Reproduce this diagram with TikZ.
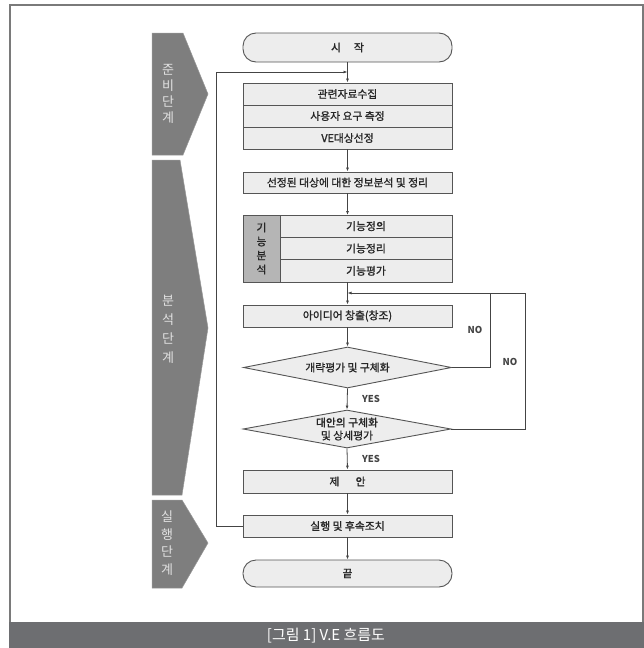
\documentclass[tikz,border=0pt]{standalone}
\usepackage{fontspec}
\setmainfont{Noto Sans CJK KR}
\newfontfamily\krb[FakeBold=1.3]{Noto Sans CJK KR}
\usetikzlibrary{shapes.geometric,arrows.meta}
\definecolor{boxfill}{HTML}{EDEDED}
\definecolor{boxline}{HTML}{555555}
\definecolor{cellfill}{HTML}{B5B5B5}
\definecolor{phasefill}{HTML}{7E7E7E}
\definecolor{phasetxt}{HTML}{E2E2E2}
\definecolor{bandfill}{HTML}{6D6E71}
\definecolor{framecol}{HTML}{7A7A7A}
\definecolor{conn}{HTML}{444444}
\begin{document}
\begin{tikzpicture}[x=1pt,y=-1pt,
  rowbox/.style={draw=boxline, line width=0.9pt, fill=boxfill, minimum width=209pt, minimum height=22pt, inner sep=0pt, text=black!85, font=\krb\fontsize{10.8}{12}\selectfont},
  subrow/.style={rowbox, minimum width=172pt},
  cellbox/.style={draw=boxline, line width=0.9pt, fill=cellfill, minimum width=37pt, minimum height=67pt, inner sep=0pt, align=center, text=black!85, font=\krb\fontsize{10.8}{14}\selectfont},
  termbox/.style={draw=boxline, line width=0.9pt, fill=boxfill, minimum width=209pt, rounded corners=13pt, inner sep=0pt, text=black!85, font=\krb\fontsize{10.8}{12}\selectfont},
  decbox/.style={draw=boxline, line width=0.9pt, fill=boxfill, diamond, aspect=5, minimum width=208pt, inner sep=0pt, align=center, text=black!85, font=\krb\fontsize{10.8}{13}\selectfont},
  phasebox/.style={fill=phasefill, draw=phasefill!80!white, line width=0.5pt},
  phasetext/.style={text=phasetxt, align=center, inner sep=0pt},
  lbl/.style={font=\fontsize{9.5}{10}\selectfont\bfseries, text=conn, inner sep=0pt},
  conline/.style={draw=conn, line width=0.8pt},
  arr/.style={conline, -{Latex[length=4pt,width=3pt]}}
]
\useasboundingbox (0,0) rectangle (644,648);
% frame and caption band
\draw[framecol, line width=1.5pt] (10,622) -- (10,5) -- (643,5) -- (643,622);
\fill[bandfill] (9,622) rectangle (644,648);
\node[text=white, font=\fontsize{15}{16}\selectfont] (cap) at (326,636) {[그림 1] V.E 흐름도};

% phase shapes
\path[phasebox] (152,33) -- (183,33) -- (208,94) -- (183,155) -- (152,155) -- cycle;
\path[phasebox] (152,160) -- (180,160) -- (208,328) -- (182,495) -- (152,495) -- cycle;
\path[phasebox] (152,500) -- (182,500) -- (208,543) -- (182,588) -- (152,588) -- cycle;
\node[phasetext, font=\fontsize{13}{16}\selectfont] (ph1) at (168,94) {준\\비\\단\\계};
\node[phasetext, font=\fontsize{13}{19}\selectfont] (ph2) at (168,329) {분\\석\\단\\계};
\node[phasetext, font=\fontsize{13}{17.5}\selectfont] (ph3) at (167,543) {실\\행\\단\\계};

% start
\node[termbox, minimum height=29pt] (start) at (347.5,47.5) {시\hspace{1.2em}작};
% box group 1
\node[rowbox] (b1) at (347.5,94) {관련자료수집};
\node[rowbox] (b2) at (347.5,116) {사용자 요구 측정};
\node[rowbox] (b3) at (347.5,138) {VE대상선정};
% info
\node[rowbox, minimum height=21pt] (info) at (347.5,182.5) {선정된 대상에 대한 정보분석 및 정리};
% function analysis
\node[cellbox] (fa) at (261.5,248.5) {기\\능\\분\\석};
\node[subrow, minimum height=22.3pt] (f1) at (366,226.2) {기능정의};
\node[subrow, minimum height=22.3pt] (f2) at (366,248.5) {기능정리};
\node[subrow, minimum height=22.3pt] (f3) at (366,270.8) {기능평가};
\coordinate (ftop) at (347.5,215);
\coordinate (fbot) at (347.5,282);
% idea
\node[rowbox] (idea) at (347.5,316) {아이디어 창출(창조)};
% decisions
\node[decbox, minimum height=41pt] (d1) at (347.5,367.5) {개략평가 및 구체화};
\node[decbox, minimum height=38pt] (d2) at (347,429) {대안의 구체화\\및 상세평가};
% proposal, execution, end
\node[rowbox, minimum height=23pt] (prop) at (347.5,481.5) {제\hspace{1.5em}안};
\node[rowbox] (exec) at (347.5,526) {실행 및 후속조치};
\node[termbox, minimum height=27pt] (fin) at (347.5,573.5) {끝};

% connectors
\coordinate (j1) at (347.5,72);
\coordinate (lc) at (216,72);
\coordinate (j2) at (347.5,293);
\coordinate (r1) at (490,293);
\coordinate (r2) at (525,293);

\draw[arr] (start.south) -- (b1.north);
\draw[arr] (exec.west) -| (lc) -- (j1);
\draw[arr] (b3.south) -- (info.north);
\draw[arr] (info.south) -- (ftop);
\draw[arr] (fbot) -- (idea.north);
\draw[arr] (idea.south) -- (d1.north);
\draw[arr] (d1.south) -- (d2.north);
\draw[arr] (d2.south) -- (prop.north);
\draw[arr] (prop.south) -- (exec.north);
\draw[arr] (exec.south) -- (fin.north);
\draw[conline] (d2.east) -| (r2) -- (r1);
\draw[arr] (d1.east) -| (r1) -- (j2);

% labels
\node[lbl] (no1) at (475,330) {NO};
\node[lbl] (no2) at (510,362) {NO};
\node[lbl] (yes1) at (371,399) {YES};
\node[lbl] (yes2) at (371,459) {YES};
\end{tikzpicture}
\end{document}
